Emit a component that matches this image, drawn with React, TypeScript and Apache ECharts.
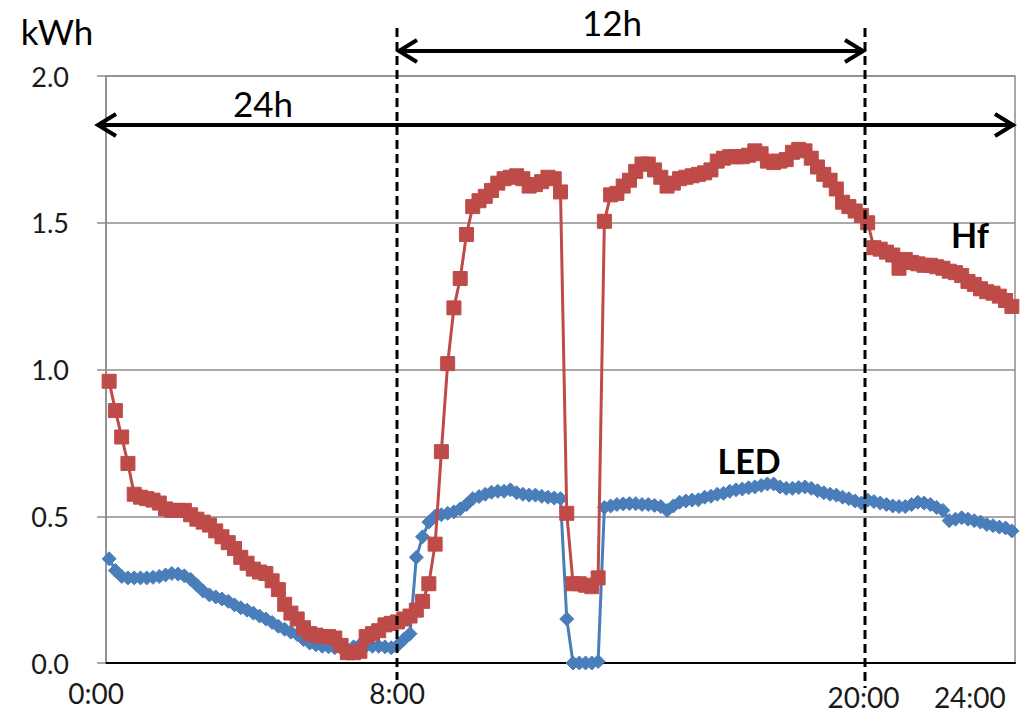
import React, { useEffect, useRef } from "react";
import * as echarts from "echarts";

// 10-minute categories from 0:00 to 24:00
const times: string[] = [];
for (let i = 0; i <= 144; i++) {
  const h = Math.floor(i / 6);
  const m = (i % 6) * 10;
  times.push(`${h}:${m === 0 ? "00" : m}`);
}

const xTickLabels = ["0:00", "8:00", "20:00", "24:00"];
const xTickIndex = [0, 48, 120, 144];

const hfValues = [
  0.96, 0.86, 0.77, 0.68, 0.575, 0.565, 0.56, 0.555, 0.545, 0.525,
  0.52, 0.52, 0.52, 0.505, 0.49, 0.48, 0.47, 0.45, 0.43, 0.41,
  0.39, 0.36, 0.34, 0.32, 0.31, 0.305, 0.28, 0.25, 0.2, 0.17,
  0.15, 0.12, 0.1, 0.095, 0.09, 0.09, 0.085, 0.06, 0.035, 0.035,
  0.04, 0.09, 0.1, 0.11, 0.13, 0.135, 0.14, 0.15, 0.16, 0.18,
  0.21, 0.27, 0.405, 0.72, 1.02, 1.21, 1.31, 1.46, 1.555, 1.575,
  1.59, 1.61, 1.635, 1.65, 1.655, 1.66, 1.65, 1.625, 1.63, 1.64,
  1.655, 1.65, 1.605, 0.51, 0.27, 0.27, 0.265, 0.26, 0.29, 1.505,
  1.595, 1.6, 1.625, 1.645, 1.675, 1.7, 1.7, 1.68, 1.655, 1.625,
  1.635, 1.65, 1.655, 1.66, 1.665, 1.67, 1.68, 1.71, 1.72, 1.725,
  1.725, 1.725, 1.73, 1.745, 1.735, 1.71, 1.705, 1.71, 1.715, 1.74,
  1.75, 1.745, 1.72, 1.69, 1.665, 1.645, 1.615, 1.57, 1.555, 1.54,
  1.525, 1.5, 1.415, 1.41, 1.4, 1.39, 1.345, 1.375, 1.365, 1.36,
  1.355, 1.355, 1.35, 1.345, 1.335, 1.33, 1.32, 1.3, 1.29, 1.275,
  1.265, 1.26, 1.25, 1.235, 1.215,
];

const ledValues = [
  0.355, 0.315, 0.295, 0.29, 0.29, 0.29, 0.29, 0.292, 0.295, 0.3,
  0.305, 0.303, 0.297, 0.285, 0.265, 0.245, 0.232, 0.225, 0.218, 0.21,
  0.198, 0.188, 0.18, 0.17, 0.16, 0.15, 0.138, 0.125, 0.115, 0.105,
  0.097, 0.08, 0.068, 0.062, 0.057, 0.055, 0.052, 0.05, 0.045, 0.055,
  0.062, 0.058, 0.057, 0.057, 0.055, 0.052, 0.06, 0.08, 0.1, 0.36,
  0.43, 0.48, 0.5, 0.505, 0.51, 0.515, 0.525, 0.54, 0.56, 0.567,
  0.575, 0.582, 0.585, 0.585, 0.59, 0.58, 0.575, 0.572, 0.572, 0.568,
  0.565, 0.562, 0.56, 0.15, 0.0, 0.0, 0.0, 0.0, 0.005, 0.53,
  0.535, 0.54, 0.542, 0.543, 0.543, 0.54, 0.54, 0.537, 0.533, 0.52,
  0.535, 0.548, 0.552, 0.555, 0.556, 0.565, 0.568, 0.575, 0.578, 0.585,
  0.59, 0.593, 0.597, 0.6, 0.605, 0.61, 0.61, 0.6, 0.595, 0.595,
  0.598, 0.6, 0.595, 0.587, 0.58, 0.575, 0.572, 0.565, 0.56, 0.552,
  0.545, 0.555, 0.55, 0.545, 0.54, 0.535, 0.533, 0.533, 0.54, 0.548,
  0.545, 0.54, 0.53, 0.52, 0.485, 0.49, 0.495, 0.49, 0.485, 0.48,
  0.472, 0.468, 0.463, 0.46, 0.45,
];

const FONT = "Lato, 'Open Sans', sans-serif";
const GRID_GRAY = "#8c8c8c";

function textEl(text: string, x: number, y: number, size: number, weight: string = "normal") {
  return {
    type: "text",
    z: 100,
    x,
    y,
    style: {
      text,
      fontSize: size,
      fontFamily: FONT,
      fontWeight: weight,
      fill: "#000",
      align: "center",
      verticalAlign: "middle",
      textAlign: "center",
      textVerticalAlign: "middle",
    },
  };
}

function dashed(x: number, y1: number, y2: number) {
  return {
    type: "line",
    z: 100,
    shape: { x1: x, y1, x2: x, y2 },
    style: { stroke: "#000", lineWidth: 3, lineDash: [9, 5] },
  };
}

function doubleArrow(x1: number, x2: number, y: number) {
  const head = 20;
  const half = 11;
  const st = { stroke: "#000", lineWidth: 4, fill: "none", lineCap: "butt", lineJoin: "miter" };
  return [
    { type: "line", z: 100, shape: { x1: x1 + 1, y1: y, x2: x2 - 1, y2: y }, style: st },
    {
      type: "polyline",
      z: 100,
      shape: { points: [[x1 + head, y - half], [x1 + 2, y], [x1 + head, y + half]] },
      style: st,
    },
    {
      type: "polyline",
      z: 100,
      shape: { points: [[x2 - head, y - half], [x2 - 2, y], [x2 - head, y + half]] },
      style: st,
    },
  ];
}

export default function App() {
  const ref = useRef<HTMLDivElement>(null);

  useEffect(() => {
    if (!ref.current) return;
    const chart = echarts.init(ref.current, undefined, { renderer: "svg" });

    const base = { fontSize: 28, lineHeight: 26, fontFamily: FONT, color: "#1a1a1a" };
    const richStyles: Record<string, any> = {
      l0: { ...base, padding: [0, 26, 0, 0] },
      l1: { ...base, padding: [0, 26, 0, 0] },
      l2: { ...base, padding: [8, 0, 0, 4] },
      l3: { ...base, padding: [8, 84, 0, 0] },
    };

    const option: any = {
      animation: false,
      backgroundColor: "#ffffff",
      grid: {
        left: 106,
        right: 7,
        top: 76,
        bottom: 53,
        containLabel: false,
        outerBoundsMode: "none",
        show: true,
        borderColor: GRID_GRAY,
        borderWidth: 1.5,
        backgroundColor: "transparent",
      },
      xAxis: {
        type: "category",
        data: times,
        boundaryGap: true,
        axisLine: { show: true, lineStyle: { color: "#000", width: 2 } },
        axisTick: { show: false },
        splitLine: { show: false },
        axisLabel: {
          interval: (i: number) => xTickIndex.indexOf(i) >= 0,
          formatter: (v: string, i: number) => {
            const k = xTickIndex.indexOf(i);
            return k >= 0 ? `{l${k}|${xTickLabels[k]}}` : "";
          },
          rich: richStyles,
          margin: 17,
          fontSize: 28,
          lineHeight: 26,
          fontFamily: FONT,
          color: "#1a1a1a",
          hideOverlap: false,
        },
      },
      yAxis: {
        type: "value",
        min: 0,
        max: 2,
        interval: 0.5,
        axisLine: { show: true, lineStyle: { color: GRID_GRAY, width: 1.5 } },
        axisTick: { show: true, inside: false, length: 9, lineStyle: { color: GRID_GRAY, width: 1.5 } },
        axisLabel: {
          formatter: (v: number) => v.toFixed(1),
          margin: 37,
          fontSize: 27,
          fontFamily: FONT,
          color: "#1a1a1a",
        },
        splitLine: { show: true, lineStyle: { color: GRID_GRAY, width: 1.5 } },
      },
      series: [
        {
          name: "LED",
          type: "line",
          data: ledValues,
          symbol: "diamond",
          symbolSize: 14,
          showAllSymbol: true,
          lineStyle: { color: "#4A7EBB", width: 3 },
          itemStyle: { color: "#4A7EBB", borderColor: "#4A7EBB", borderWidth: 1 },
          z: 2,
        },
        {
          name: "Hf",
          type: "line",
          data: hfValues,
          symbol: "rect",
          symbolSize: 14,
          showAllSymbol: true,
          lineStyle: { color: "#BE4B48", width: 3 },
          itemStyle: { color: "#BE4B48", borderColor: "#BE4B48", borderWidth: 1 },
          z: 3,
        },
      ],
      graphic: [
        dashed(397, 28, 680),
        dashed(865, 28, 688),
        ...doubleArrow(397, 865, 51),
        ...doubleArrow(96, 1015, 125),
        textEl("kWh", 57, 31, 35),
        textEl("12h", 612, 22, 35),
        textEl("24h", 263, 103, 35),
        textEl("Hf", 970, 234, 34, "bold"),
        textEl("LED", 749, 460, 34, "bold"),
      ],
    };

    chart.setOption(option);
    return () => {
      chart.dispose();
    };
  }, []);

  return (
    <div
      ref={ref}
      style={{ position: "absolute", left: 0, top: 0, width: 1022, height: 716, background: "#fff" }}
    />
  );
}
